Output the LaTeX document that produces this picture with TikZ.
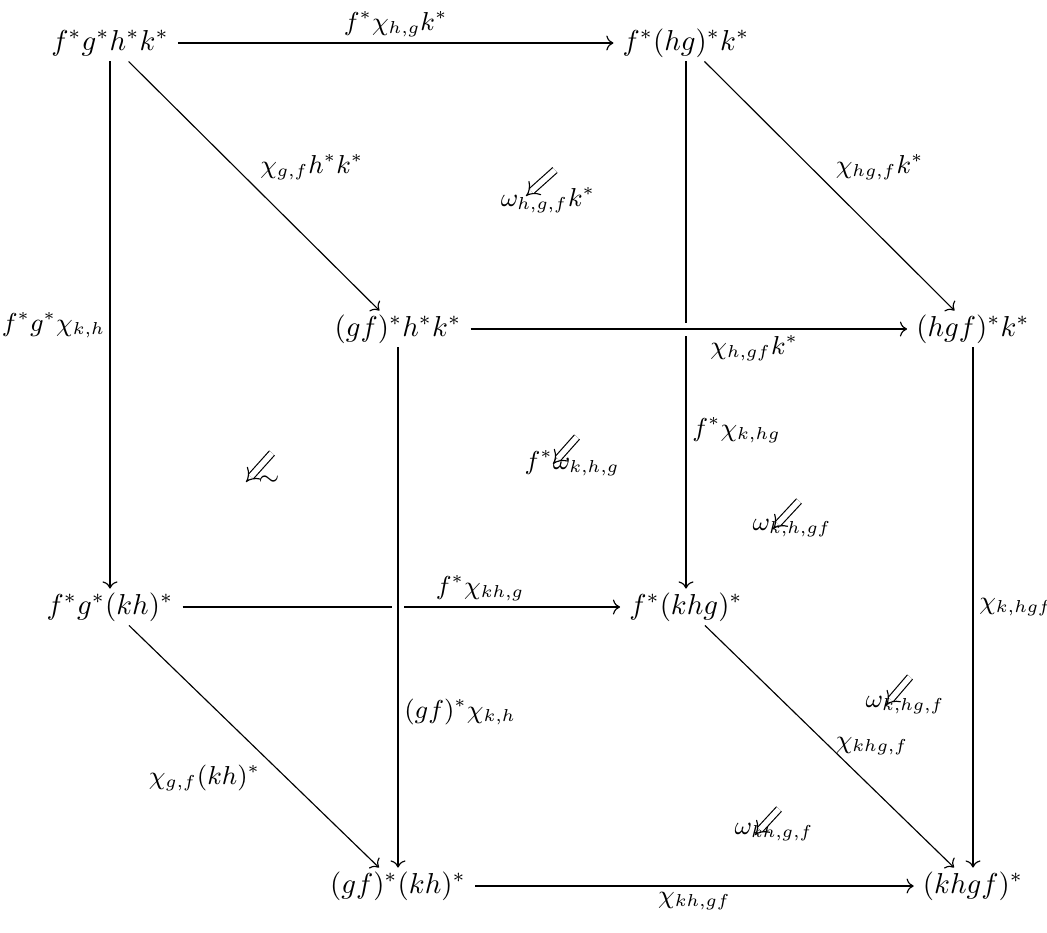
\documentclass[tikz,border=0pt]{standalone}
\usetikzlibrary{arrows.meta}
\begin{document}
\begin{tikzpicture}[x=0.347pt,y=-0.347pt,
  obj/.style={inner xsep=3pt, inner ysep=1.2pt, text height=7.5pt, text depth=2.5pt},
  mor/.style={-{Computer Modern Rightarrow}, line width=0.4pt},
  lab/.style={font=\fontsize{8.7}{10}\selectfont, inner sep=2pt},
  twocell/.style={double, double distance=1.9pt, -{Implies[scale=1.5]}, line width=0.4pt},
  over/.style={preaction={draw=white, line width=4.5pt, -}}]
\useasboundingbox (0,0) rectangle (1047,932);
% objects
\node[obj] (A) at (110,43) {$f^*g^*h^*k^*$};
\node[obj] (B) at (686,43) {$f^*(hg)^*k^*$};
\node[obj] (C) at (398,329) {$(gf)^*h^*k^*$};
\node[obj] (D) at (973,329) {$(hgf)^*k^*$};
\node[obj] (E) at (110,607) {$f^*g^*(kh)^*$};
\node[obj] (F) at (686,607) {$f^*(khg)^*$};
\node[obj] (G) at (398,886) {$(gf)^*(kh)^*$};
\node[obj] (H) at (973,886) {$(khgf)^*$};
% morphisms
\draw[mor] (A) -- node[lab, above] {$f^*\chi_{h,g}k^*$} (B);
\draw[mor] (A) -- node[lab, above right] {$\chi_{g,f}h^*k^*$} (C);
\draw[mor] (B) -- node[lab, above right] {$\chi_{hg,f}k^*$} (D);
\draw[mor] (A) -- node[lab, left, inner sep=1.5pt] {$f^*g^*\chi_{k,h}$} (E);
\draw[mor] (B) -- node[lab, right, pos=0.7] {$f^*\chi_{k,hg}$} (F);
\draw[mor, over] (C) -- node[lab, below, pos=0.65] {$\chi_{h,gf}k^*$} (D);
\draw[mor] (E) -- node[lab, above, pos=0.68] {$f^*\chi_{kh,g}$} (F);
\draw[mor, over] (C) -- node[lab, right, pos=0.7] {$(gf)^*\chi_{k,h}$} (G);
\draw[mor] (D) -- node[lab, right] {$\chi_{k,hgf}$} (H);
\draw[mor] (E) -- node[lab, below left, pos=0.55] {$\chi_{g,f}(kh)^*$} (G);
\draw[mor] (F) -- node[lab, right] {$\chi_{khg,f}$} (H);
\draw[mor] (G) -- node[lab, below] {$\chi_{kh,gf}$} (H);
% 2-cells
\node[lab] (w1) at (548,200) {$\omega_{h,g,f}k^*$};
\coordinate (t1) at (555,170); \coordinate (h1) at (526,196);
\draw[twocell] (t1) -- (h1);
\node[lab] (w2) at (269,481) {$\sim$};
\coordinate (t2) at (272,453); \coordinate (h2) at (246,482);
\draw[twocell] (t2) -- (h2);
\node[lab] (w3) at (572,463) {$f^*\omega_{k,h,g}$};
\coordinate (t3) at (577,437); \coordinate (h3) at (553,464);
\draw[twocell] (t3) -- (h3);
\node[lab] (w4) at (792,528) {$\omega_{k,h,gf}$};
\coordinate (t4) at (799,501); \coordinate (h4) at (773,529);
\draw[twocell] (t4) -- (h4);
\node[lab] (w5) at (905,705) {$\omega_{k,hg,f}$};
\coordinate (t5) at (910,677); \coordinate (h5) at (886,705);
\draw[twocell] (t5) -- (h5);
\node[lab] (w6) at (774,832) {$\omega_{kh,g,f}$};
\coordinate (t6) at (779,809); \coordinate (h6) at (755,835);
\draw[twocell] (t6) -- (h6);
\end{tikzpicture}
\end{document}
